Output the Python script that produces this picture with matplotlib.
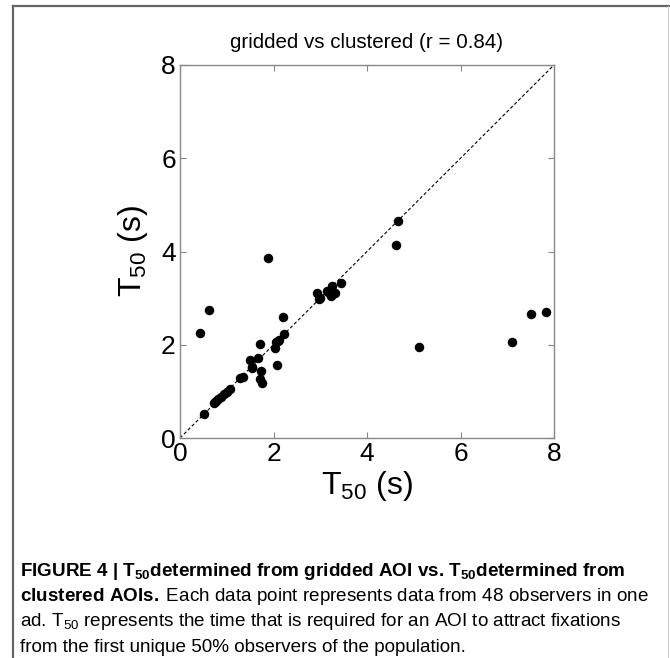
import numpy as np
import matplotlib
matplotlib.use("Agg")
import matplotlib.pyplot as plt
from matplotlib import font_manager

installed = {f.name for f in font_manager.fontManager.ttflist}
cap_font = "Liberation Sans Narrow" if "Liberation Sans Narrow" in installed else "Liberation Sans"

matplotlib.rcParams.update({
    "font.family": "Liberation Sans",
    "mathtext.fontset": "custom",
    "mathtext.rm": "Liberation Sans",
    "mathtext.bf": cap_font + ":bold",
    "mathtext.it": "Liberation Sans:italic",
})

# T50 per ad: gridded AOI (x) vs clustered AOIs (y), seconds
t50_gridded = [0.42, 0.62, 0.52, 0.72, 0.75, 0.78, 0.82, 0.87, 0.95, 1.00, 1.06,
               1.29, 1.34, 1.49, 1.53, 1.55, 1.67, 1.72, 1.72, 1.73, 1.75, 1.89,
               2.04, 2.05, 2.07, 2.09, 2.11, 2.20, 2.23, 2.92, 2.98, 2.99, 3.14,
               3.17, 3.22, 3.23, 3.26, 3.27, 3.32, 3.44, 4.61, 4.67, 5.12, 7.10,
               7.50, 7.83]
t50_clustered = [2.26, 2.74, 0.51, 0.76, 0.77, 0.80, 0.83, 0.87, 0.95, 0.98, 1.05,
                 1.28, 1.31, 1.67, 1.51, 1.53, 1.72, 2.01, 1.26, 1.44, 1.17, 3.86,
                 1.94, 2.06, 1.56, 2.09, 2.11, 2.60, 2.23, 3.12, 2.98, 3.00, 3.15,
                 3.14, 3.04, 3.07, 3.26, 3.11, 3.10, 3.33, 4.13, 4.66, 1.96, 2.05,
                 2.67, 2.70]
r_value = 0.84
ticks = [0, 2, 4, 6, 8]

fig = plt.figure(figsize=(6.7, 6.58), dpi=100)

# frame around the figure panel
fig.add_artist(plt.Line2D([13 / 670, 13 / 670], [0, 1 - 5.5 / 658], color="#666666", lw=1.6))
fig.add_artist(plt.Line2D([13 / 670, 1], [1 - 5.5 / 658, 1 - 5.5 / 658], color="#666666", lw=1.6))
fig.add_artist(plt.Line2D([668 / 670, 668 / 670], [0, 1 - 5.5 / 658], color="#cccccc", lw=0.8))

ax = fig.add_axes([180 / 670, 1 - 438 / 658, 374 / 670, 373 / 658])
ax.plot([0, 8], [0, 8], color="black", ls=(0, (3, 2)), lw=0.8)
ax.scatter(t50_gridded, t50_clustered, s=34, color="black", zorder=3, clip_on=False)

ax.set_xlim(0, 8)
ax.set_ylim(0, 8)
ax.set_xticks(ticks)
ax.set_yticks(ticks)
ax.tick_params(direction="in", length=4, width=0.8, color="#888888",
               labelsize=19, top=True, right=True, pad=3)
for sp in ax.spines.values():
    sp.set_color("#888888")
    sp.set_linewidth(1.0)

ax.set_title("gridded vs clustered (r = %.2f)" % r_value, fontsize=14.8, pad=12)
ax.set_xlabel(r"T$_{50}$ (s)", fontsize=23, labelpad=2)
ax.set_ylabel(r"T$_{50}$ (s)", fontsize=23, labelpad=8)

# caption below the plot
cap_lines = [
    (r"FIGURE 4 | T$_{\mathbf{50}}$determined from gridded AOI vs. T$_{\mathbf{50}}$determined from", "bold"),
    (r"$\mathbf{clustered\ AOIs.}\;$Each data point represents data from 48 observers in one", "normal"),
    (r"ad. T$_{50}$ represents the time that is required for an AOI to attract fixations", "normal"),
    ("from the first unique 50% observers of the population.", "normal"),
]
for i, (txt, w) in enumerate(cap_lines):
    fig.text(20 / 670, 1 - (571 + 25.5 * i) / 658, txt, fontsize=13.6, family=cap_font,
             fontweight=w, va="center", ha="left")

fig.savefig("out.png", dpi=100)
